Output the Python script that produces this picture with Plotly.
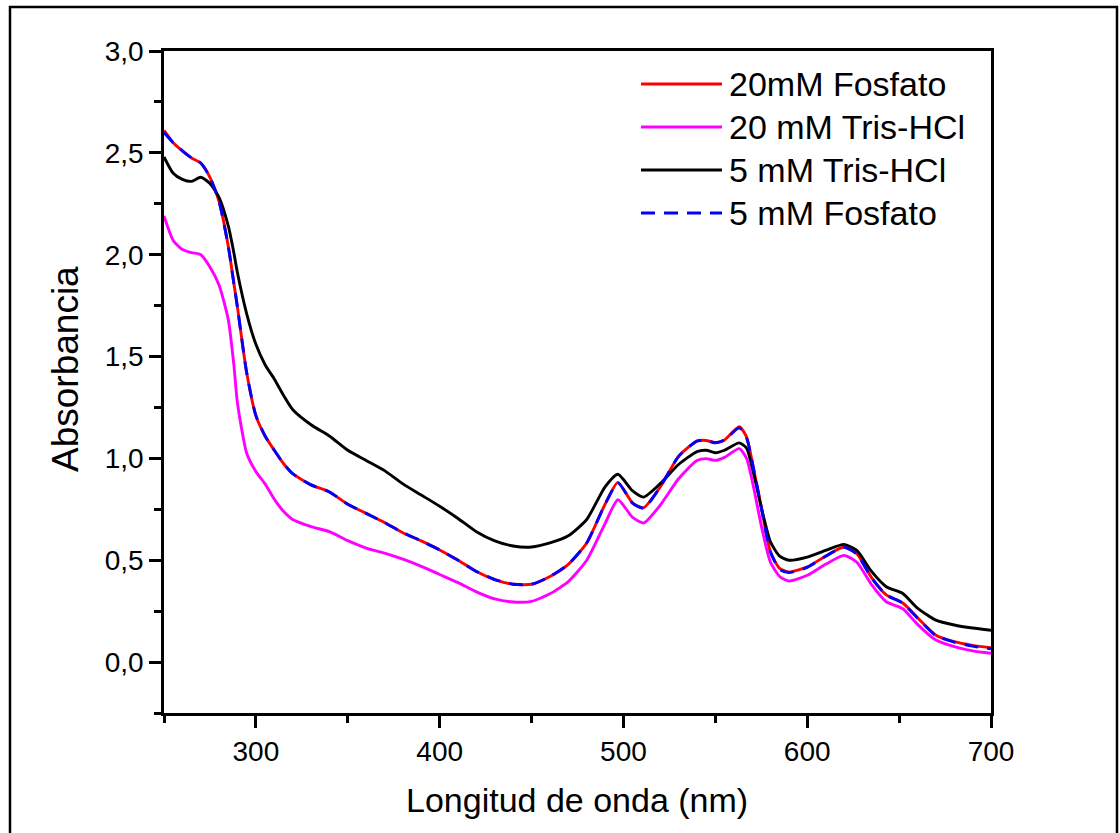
import plotly.graph_objects as go

# Wavelength grid (nm)
wavelength = [250, 255, 260, 265, 270, 275, 280, 285, 288, 290, 295, 300, 305, 310, 315, 320, 330, 340,
              350, 360, 370, 380, 390, 400, 410, 420, 430, 440, 450, 460, 470, 480, 490, 497,
              505, 511, 520, 530, 540, 545, 550, 555, 563, 567, 571, 575, 580, 585, 590, 600,
              610, 620, 627, 635, 643, 652, 660, 670, 680, 690, 700]

fosfato_20 = [2.61, 2.55, 2.51, 2.475, 2.45, 2.38, 2.26, 2.04, 1.86, 1.74, 1.42, 1.21, 1.11, 1.04, 0.975, 0.925,
              0.87, 0.835, 0.775, 0.73, 0.685, 0.635, 0.595, 0.55, 0.50, 0.445, 0.405, 0.382,
              0.382, 0.42, 0.48, 0.585, 0.775, 0.882, 0.78, 0.758, 0.86, 1.01, 1.085, 1.088,
              1.077, 1.09, 1.155, 1.105, 0.94, 0.76, 0.54, 0.46, 0.442, 0.467, 0.52, 0.565,
              0.532, 0.415, 0.33, 0.29, 0.218, 0.132, 0.10, 0.082, 0.07]

tris_20 = [2.19, 2.07, 2.025, 2.01, 2.0, 1.94, 1.85, 1.68, 1.46, 1.27, 1.025, 0.935, 0.875, 0.80, 0.74, 0.70,
           0.665, 0.64, 0.596, 0.56, 0.535, 0.505, 0.47, 0.43, 0.39, 0.345, 0.31, 0.295,
           0.298, 0.335, 0.395, 0.50, 0.68, 0.797, 0.71, 0.683, 0.77, 0.90, 0.99, 0.999,
           0.99, 1.005, 1.048, 1.0, 0.85, 0.67, 0.49, 0.42, 0.398, 0.426, 0.48, 0.524,
           0.49, 0.38, 0.296, 0.262, 0.185, 0.108, 0.076, 0.055, 0.043]

tris_5 = [2.48, 2.40, 2.37, 2.36, 2.38, 2.35, 2.28, 2.14, 2.01, 1.91, 1.71, 1.56, 1.46, 1.39, 1.31, 1.24,
          1.165, 1.11, 1.04, 0.99, 0.94, 0.875, 0.82, 0.765, 0.705, 0.64, 0.595, 0.57,
          0.565, 0.585, 0.62, 0.70, 0.86, 0.922, 0.84, 0.81, 0.876, 0.97, 1.033, 1.04,
          1.028, 1.04, 1.076, 1.05, 0.92, 0.76, 0.59, 0.52, 0.50, 0.515, 0.548, 0.578,
          0.548, 0.445, 0.37, 0.337, 0.265, 0.206, 0.182, 0.167, 0.156]

fosfato_5 = [2.60, 2.55, 2.51, 2.475, 2.45, 2.38, 2.26, 2.04, 1.86, 1.74, 1.42, 1.21, 1.11, 1.04, 0.975, 0.925,
             0.87, 0.835, 0.775, 0.73, 0.685, 0.635, 0.595, 0.55, 0.50, 0.445, 0.405, 0.382,
             0.382, 0.42, 0.48, 0.585, 0.775, 0.88, 0.78, 0.755, 0.86, 1.01, 1.085, 1.088,
             1.077, 1.09, 1.15, 1.10, 0.94, 0.76, 0.54, 0.455, 0.44, 0.465, 0.52, 0.563,
             0.53, 0.413, 0.33, 0.29, 0.216, 0.13, 0.098, 0.078, 0.065]

series_names = ["20mM Fosfato", "20 mM Tris-HCl", "5 mM Tris-HCl", "5 mM Fosfato"]
series_values = [fosfato_20, tris_20, tris_5, fosfato_5]
series_colors = ["#ff0000", "#ff00ff", "#000000", "#0000ff"]
series_dash = ["solid", "solid", "solid", "14px,9px"]

x_ticks = [300, 400, 500, 600, 700]
y_ticks = [0.0, 0.5, 1.0, 1.5, 2.0, 2.5, 3.0]
x_title = "Longitud de onda (nm)"
y_title = "Absorbancia"

FONT = "Liberation Sans, Arial, sans-serif"
W, H = 1120, 833
L, R, T, B = 164, 129, 51, 120
PW, PH = W - L - R, H - T - B

fig = go.Figure()
for name, vals, col, dash in zip(series_names, series_values, series_colors, series_dash):
    fig.add_trace(go.Scatter(x=wavelength, y=vals, mode="lines", name=name,
                             line=dict(color=col, width=2.9, dash=dash, shape="spline", smoothing=0.6),
                             showlegend=False))

def px2paper(xp, yp):
    return (xp - L) / PW, (H - B - yp) / PH

shapes = []
annotations = []
# custom legend
leg_y = [84, 127, 170, 213]
for name, col, dash, yp in zip(series_names, series_colors, series_dash, leg_y):
    x0, y0 = px2paper(641, yp)
    x1, _ = px2paper(722, yp)
    shapes.append(dict(type="line", xref="paper", yref="paper", x0=x0, x1=x1, y0=y0, y1=y0,
                       line=dict(color=col, width=2.9, dash=dash)))
    tx, _ = px2paper(727, yp)
    annotations.append(dict(text=name, xref="paper", yref="paper", x=tx, y=y0, xanchor="left",
                            yanchor="middle", showarrow=False,
                            font=dict(family=FONT, size=34, color="black")))

# axis titles
ax, ay = px2paper(577, 800)
annotations.append(dict(text=x_title, xref="paper", yref="paper", x=ax, y=ay, xanchor="center",
                        yanchor="middle", showarrow=False, font=dict(family=FONT, size=34, color="black")))
bx, by = px2paper(65, 369)
annotations.append(dict(text=y_title, xref="paper", yref="paper", x=bx, y=by, xanchor="center",
                        yanchor="middle", textangle=-90, showarrow=False,
                        font=dict(family=FONT, size=37, color="black")))

# outer frame
fx0, fy0 = px2paper(10, 7)
fx1, fy1 = px2paper(1117, 845)
shapes.append(dict(type="rect", xref="paper", yref="paper", x0=fx0, x1=fx1, y0=fy1, y1=fy0,
                   line=dict(color="black", width=2.5), layer="below"))

fig.update_layout(
    width=W, height=H,
    margin=dict(l=L, r=R, t=T, b=B, autoexpand=False),
    paper_bgcolor="white", plot_bgcolor="white",
    separators=",.",
    font=dict(family=FONT, size=28, color="black"),
    shapes=shapes, annotations=annotations,
    xaxis=dict(range=[250, 700], tickvals=x_ticks, ticktext=[str(v) for v in x_ticks],
               ticks="outside", ticklen=12, tickwidth=2.5, tickcolor="black",
               minor=dict(dtick=50, tick0=0, ticks="outside", ticklen=7, tickwidth=2.5, tickcolor="black"),
               showline=True, linewidth=2.5, linecolor="black", mirror=True,
               showgrid=False, zeroline=False,
               tickfont=dict(size=28)),
    yaxis=dict(range=[-0.25, 3.0], tickvals=y_ticks, ticktext=[f"{v:.1f}".replace(".", ",") for v in y_ticks],
               ticks="outside", ticklen=12, tickwidth=2.5, tickcolor="black",
               minor=dict(dtick=0.25, tick0=0, ticks="outside", ticklen=7, tickwidth=2.5, tickcolor="black"),
               showline=True, linewidth=2.5, linecolor="black", mirror=True,
               showgrid=False, zeroline=False,
               tickfont=dict(size=28)),
)

fig.write_html("out.html")
